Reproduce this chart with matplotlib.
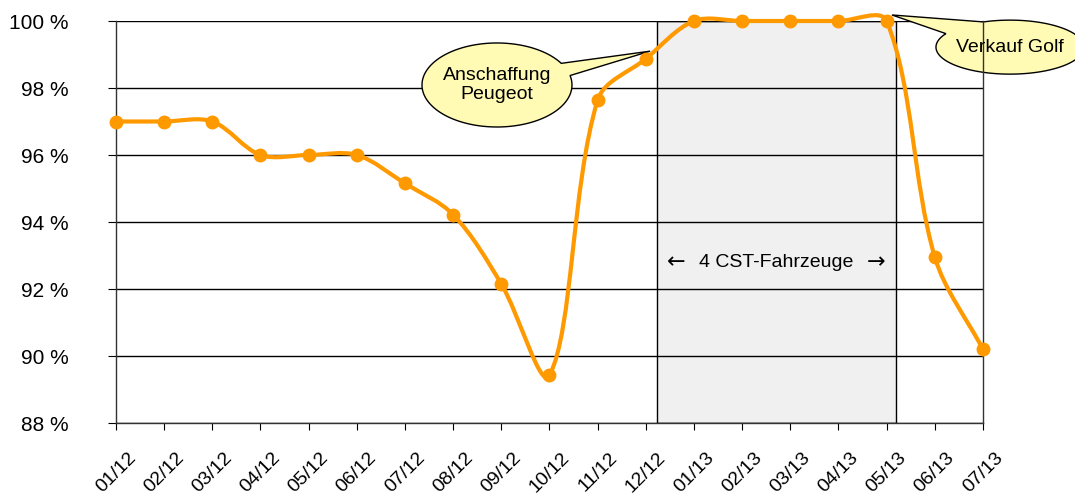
import numpy as np
import matplotlib
matplotlib.use("Agg")
import matplotlib.pyplot as plt
from matplotlib.path import Path
from matplotlib.patches import PathPatch, Rectangle, Polygon

plt.rcParams['font.family'] = ['Liberation Sans', 'DejaVu Sans']

# data
months = ['01/12', '02/12', '03/12', '04/12', '05/12', '06/12', '07/12', '08/12',
          '09/12', '10/12', '11/12', '12/12', '01/13', '02/13', '03/13', '04/13',
          '05/13', '06/13', '07/13']
quote = [97.0, 97.0, 97.0, 96.0, 96.0, 96.0, 95.15, 94.22, 92.15, 89.42, 97.64,
         98.87, 100.0, 100.0, 100.0, 100.0, 100.0, 92.95, 90.2]
y_ticks = [88, 90, 92, 94, 96, 98, 100]
cst_span = (11.23, 16.19)
cst_label = '4 CST-Fahrzeuge'

orange = '#FF9900'

fig = plt.figure(figsize=(10.75, 5), dpi=100)
ax = fig.add_axes([0.1079, 0.154, 0.8065, 0.804])
ax.set_xlim(0, len(quote) - 1)
ax.set_ylim(88, 100)

x = np.arange(len(quote))
y = np.array(quote)

# smoothed line, chord-length weighted bezier (spreadsheet style "smoothed line")
pts = ax.transData.transform(np.column_stack([x, y]))
ext = np.vstack([pts[0], pts, pts[-1]])
verts = [pts[0]]
codes = [Path.MOVETO]
for i in range(len(pts) - 1):
    p0, p1, p2, p3 = ext[i], ext[i + 1], ext[i + 2], ext[i + 3]
    d01 = np.hypot(*(p1 - p0))
    d12 = np.hypot(*(p2 - p1))
    d23 = np.hypot(*(p3 - p2))
    c1 = p1 + (p2 - p0) / 3 * d12 / (d01 + d12)
    c2 = p2 - (p3 - p1) / 3 * d12 / (d12 + d23)
    verts += [c1, c2, p2]
    codes += [Path.CURVE4] * 3
verts = ax.transData.inverted().transform(np.array(verts))
ax.add_patch(PathPatch(Path(verts, codes), fill=False, edgecolor=orange,
                       lw=3, zorder=3, clip_on=False, capstyle='round'))
ax.plot(x, y, 'o', color=orange, ms=9, zorder=4, clip_on=False)

# shaded period
ax.add_patch(Rectangle((cst_span[0], 88), cst_span[1] - cst_span[0], 12,
                       facecolor='#f0f0f0', edgecolor='black', lw=1, zorder=0.2))
cx_cst = sum(cst_span) / 2
ax.text(cx_cst, 92.8, cst_label, ha='center', va='center', fontsize=14)
for arrow, off in [('\u2190', -72), ('\u2192', 72)]:
    ax.annotate(arrow, (cx_cst, 92.8), xytext=(off, 0), textcoords='offset points',
                ha='center', va='center', fontsize=16, family='DejaVu Sans')


def callout(text, cx, cy, a, b, gap, tip):
    t = np.radians(np.linspace(gap[1], gap[0] + 360, 200))
    poly = np.column_stack([cx + a * np.cos(t), cy + b * np.sin(t)])
    poly = np.vstack([poly, tip])
    ax.add_patch(Polygon(poly, closed=True, facecolor='#FFFAB4', edgecolor='black',
                         lw=1, zorder=2.5, clip_on=False))
    ax.text(cx, cy, text, ha='center', va='center', fontsize=14, zorder=2.6,
            linespacing=1.2)


callout('Anschaffung\nPeugeot', 7.91, 98.09, 1.557, 1.254, (13, 31), (11.09, 99.10))
callout('Verkauf Golf', 18.56, 99.22, 1.536, 0.806, (111, 150), (16.11, 100.18))

ax.set_xticks(x)
ax.set_xticklabels(months, rotation=45, ha='center', fontsize=14)
ax.set_yticks(y_ticks)
ax.set_yticklabels(['%d %%' % v for v in y_ticks], fontsize=15)
ax.tick_params(axis='y', length=6, pad=28, color='black')
ax.tick_params(axis='x', length=5, pad=14, color='black')
ax.set_axisbelow(True)
ax.grid(axis='y', color='black', lw=1)
for s in ['left', 'right', 'bottom']:
    ax.spines[s].set_color('#333333')
    ax.spines[s].set_linewidth(1)
ax.spines['top'].set_visible(False)

fig.savefig('out.png', dpi=100)
